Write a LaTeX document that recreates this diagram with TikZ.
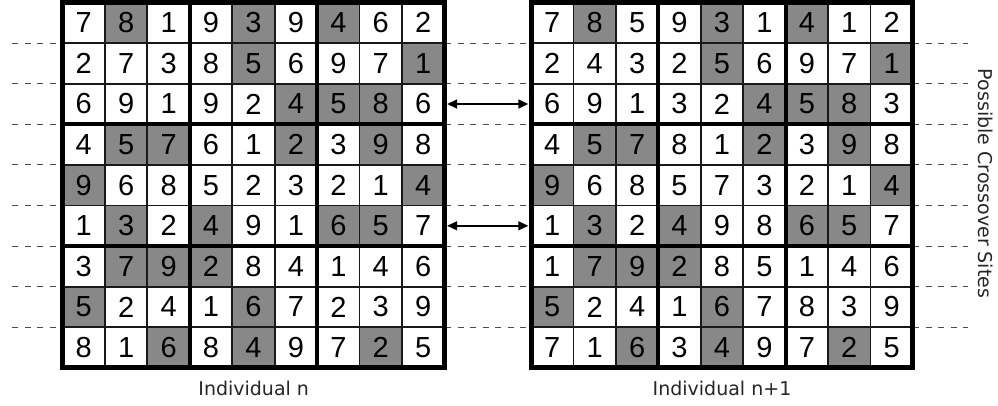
\documentclass[tikz,border=0pt]{standalone}
\usepackage{fontspec}
\setmainfont{Liberation Sans}
\newfontfamily\labelfont{DejaVu Sans}
\usetikzlibrary{arrows.meta}
\definecolor{cellgray}{RGB}{136,136,136}
\tikzset{
  digit/.style={font=\fontsize{29}{29}\selectfont, text=black, inner sep=0pt,
    minimum width=42.44pt, minimum height=40.6pt},
  thinline/.style={line width=1.8pt, draw=black!90},
  thickline/.style={line width=4pt, draw=black},
  outerline/.style={line width=5pt, draw=black},
  site/.style={dash pattern=on 6pt off 6.5pt, line width=1pt, draw=black!70},
  swap/.style={{Triangle[length=10pt,width=9pt]}-{Triangle[length=10pt,width=9pt]},
    line width=1.4pt, shorten <=2.5pt, shorten >=2.5pt},
  caption/.style={font=\labelfont\fontsize{19}{19}\selectfont, text=black!85, inner sep=0pt}
}
\newcommand{\cw}{42.44}
\newcommand{\ch}{40.6}
\begin{document}
\begin{tikzpicture}[x=1pt,y=-1pt]
\useasboundingbox (0,0) rectangle (998,405);
\fill[white] (0,0) rectangle (998,405);
% dashed crossover-site lines
\foreach \k in {1,...,8}{
  \draw[site] (12,{2.5+\k*\ch}) -- (62.5,{2.5+\k*\ch});
  \draw[site] (445,{2.5+\k*\ch}) -- (531,{2.5+\k*\ch});
  \draw[site] (913,{2.5+\k*\ch}) -- (968,{2.5+\k*\ch});
}
% shaded cells (same pattern in both grids)
\foreach \gx in {62.5,531}{
  \foreach \r/\cols in {1/{2,5,7},2/{5,9},3/{6,7,8},4/{2,3,6,8},5/{1,9},6/{2,4,7,8},7/{2,3,4},8/{1,5},9/{3,5,8}}{
    \foreach \c in \cols{
      \fill[cellgray] ({\gx+(\c-1)*\cw},{2.5+(\r-1)*\ch}) rectangle ({\gx+\c*\cw},{2.5+\r*\ch});
    }
  }
}
% digits, left grid
\foreach \r/\ds in {1/{7,8,1,9,3,9,4,6,2},2/{2,7,3,8,5,6,9,7,1},3/{6,9,1,9,2,4,5,8,6},
  4/{4,5,7,6,1,2,3,9,8},5/{9,6,8,5,2,3,2,1,4},6/{1,3,2,4,9,1,6,5,7},
  7/{3,7,9,2,8,4,1,4,6},8/{5,2,4,1,6,7,2,3,9},9/{8,1,6,8,4,9,7,2,5}}{
  \foreach \d [count=\c] in \ds{
    \node[digit] (L-\r-\c) at ({62.5+(\c-0.5)*\cw},{2.5+(\r-0.5)*\ch}) {\d};
  }
}
% digits, right grid
\foreach \r/\ds in {1/{7,8,5,9,3,1,4,1,2},2/{2,4,3,2,5,6,9,7,1},3/{6,9,1,3,2,4,5,8,3},
  4/{4,5,7,8,1,2,3,9,8},5/{9,6,8,5,7,3,2,1,4},6/{1,3,2,4,9,8,6,5,7},
  7/{1,7,9,2,8,5,1,4,6},8/{5,2,4,1,6,7,8,3,9},9/{7,1,6,3,4,9,7,2,5}}{
  \foreach \d [count=\c] in \ds{
    \node[digit] (R-\r-\c) at ({531+(\c-0.5)*\cw},{2.5+(\r-0.5)*\ch}) {\d};
  }
}
% grid lines
\foreach \gx in {62.5,531}{
  \foreach \k in {1,2,4,5,7,8}{
    \draw[thinline] ({\gx+\k*\cw},2.5) -- ({\gx+\k*\cw},{2.5+9*\ch});
    \draw[thinline] (\gx,{2.5+\k*\ch}) -- ({\gx+9*\cw},{2.5+\k*\ch});
  }
  \foreach \k in {3,6}{
    \draw[thickline] ({\gx+\k*\cw},2.5) -- ({\gx+\k*\cw},{2.5+9*\ch});
    \draw[thickline] (\gx,{2.5+\k*\ch}) -- ({\gx+9*\cw},{2.5+\k*\ch});
  }
  \draw[outerline] (\gx,2.5) rectangle ({\gx+9*\cw},{2.5+9*\ch});
}
% swap arrows
\draw[swap] (L-3-9.east) -- (R-3-1.west);
\draw[swap] (L-6-9.east) -- (R-6-1.west);
% captions
\node[caption] (capL) at (253.7,388) {Individual n};
\node[caption] (capR) at (722,388) {Individual n+1};
\node[caption, rotate=-90] (sites) at (986,183.5) {Possible Crossover Sites};
\end{tikzpicture}
\end{document}
